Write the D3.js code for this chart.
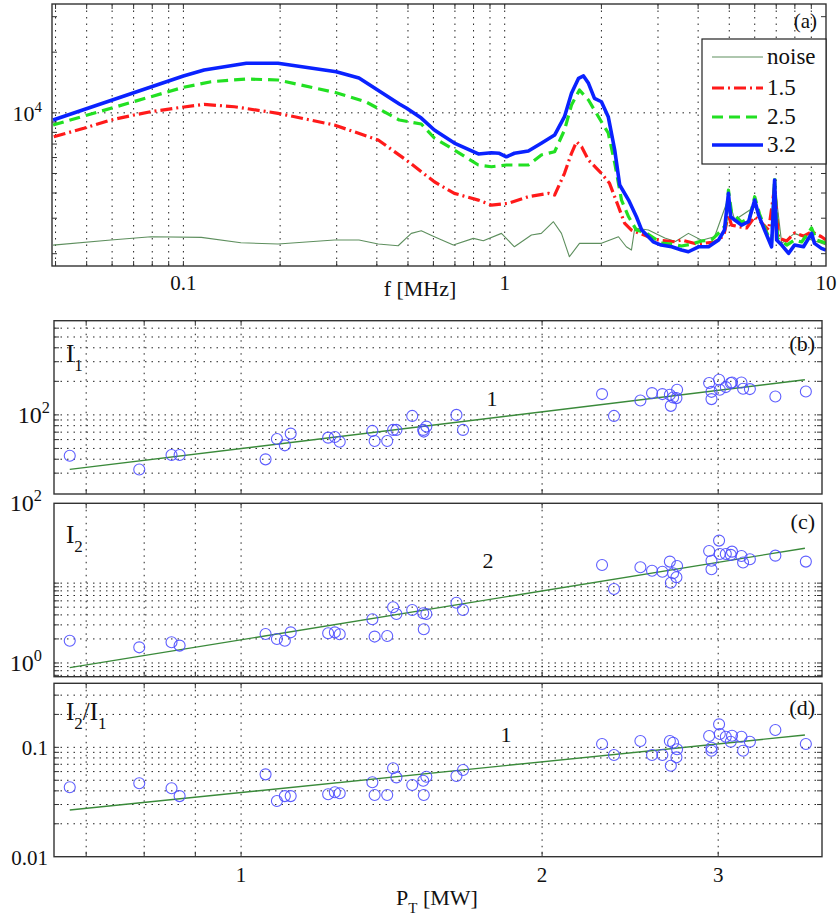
<!DOCTYPE html>
<html><head><meta charset="utf-8">
<script src="https://cdn.jsdelivr.net/npm/d3@7"></script>
<style>body{margin:0;background:#fff} svg text{font-family:"Liberation Serif","Times New Roman",serif;}</style>
</head><body><svg id="c" width="840" height="920"></svg>
<script>
// ---------------- DATA: panel (a) spectra ----------------
const noiseF = [0.0393,0.0595,0.0793,0.1137,0.151,0.197,0.295,0.352,0.404,0.466,0.512,0.550,0.604,0.692,0.799,0.858,0.977,1.072,1.211,1.30,1.418,1.502,1.590,1.709,2.0,2.26,2.39,2.48,2.54,2.80,3.15,3.40,3.73,4.10,4.50,4.97,5.20,6.0,6.40,6.77,6.92,7.28,7.98,9.02,9.68,10];
const noiseV = [2207,2338,2427,2410,2267,2234,2338,2338,2234,2190,2523,2600,2427,2207,2383,2319,2523,2165,2475,2523,2882,2523,1932,2251,2251,2427,2165,2085,2682,2620,2393,2300,2523,2330,2427,3777,2938,3420,2722,2251,4467,2251,2523,2338,2251,2207];

const f15 = [0.0395,0.0490,0.0595,0.0702,0.0793,0.0935,0.116,0.144,0.197,0.295,0.404,0.494,0.604,0.697,0.828,0.909,1.027,1.185,1.368,1.43,1.535,1.614,1.673,1.735,1.823,2.0,2.12,2.26,2.36,2.48,2.80,3.01,3.38,3.55,3.96,4.50,4.80,4.97,5.08,5.35,5.66,6.0,6.27,6.63,6.92,7.12,7.55,7.98,8.51,9.02,9.68,10];
const v15 = [7610,8380,9210,9750,10130,10530,11020,10720,9945,8700,7330,5830,4550,3986,3690,3487,3556,3837,3986,3908,5010,6300,7190,6790,5830,5010,4467,3420,2840,2620,2427,2338,2293,2338,2234,2286,2447,3110,2773,2722,2682,3050,2870,2620,4298,2393,2312,2533,2447,2570,2427,2338];

const f25 = [0.0393,0.1,0.122,0.157,0.197,0.299,0.371,0.470,0.550,0.604,0.697,0.828,0.909,1.012,1.185,1.30,1.43,1.535,1.614,1.709,1.823,2.0,2.10,2.20,2.31,2.43,2.57,2.76,3.07,3.31,3.55,3.82,4.10,4.40,4.67,4.87,4.97,5.08,5.46,5.78,6.0,6.21,6.53,6.77,6.92,7.07,7.55,7.98,8.40,9.02,9.34,10];
const v25 = [8700,13385,14270,14720,14550,12585,11310,9210,8800,7500,6540,5510,5403,5510,5510,6180,6410,8215,10935,12980,11575,9035,7940,5635,3690,3050,2620,2533,2260,2234,2183,2234,2312,2338,2562,2773,4140,3220,2870,3006,3835,3148,2562,2260,4748,2393,2207,2338,2286,2682,2338,2260];

const f32 = [0.0393,0.1,0.116,0.157,0.197,0.299,0.352,0.470,0.494,0.550,0.604,0.697,0.828,0.909,0.962,1.012,1.072,1.185,1.30,1.43,1.535,1.614,1.698,1.759,1.823,1.903,2.0,2.10,2.20,2.28,2.43,2.57,2.67,2.90,3.07,3.31,3.55,3.73,4.01,4.31,4.63,4.83,4.97,5.05,5.20,5.46,5.74,6.0,6.17,6.44,6.77,6.92,7.02,7.28,7.65,7.98,8.51,9.02,9.21,9.68,10];
const v32 = [9210,15240,16310,17610,17610,16000,14890,11060,10560,9420,8220,7080,6250,6340,6300,6050,6300,6465,7060,7760,9570,12500,14840,15240,14010,11800,11350,9570,6540,4385,3690,3050,2620,2290,2207,2165,2085,2045,2165,2165,2338,2620,3986,3050,2938,2773,2884,3690,3110,2620,2165,4645,2338,2207,2009,2207,2165,2523,2250,2126,2085];

const seriesNames = ["noise","1.5","2.5","3.2"];
const freqTickLabels = [0.1, 1, 10];
const specTickLabel = 10000;

// ---------------- DATA: panels (b)-(d) ----------------
const pT = [0.674,0.791,0.852,0.868,1.058,1.086,1.106,1.121,1.222,1.241,1.255,1.353,1.360,1.400,1.419,1.430,1.483,1.521,1.523,1.532,1.642,1.667,2.296,2.360,2.508,2.576,2.638,2.684,2.690,2.704,2.725,2.729,2.938,2.954,2.954,3.006,3.011,3.053,3.088,3.097,3.165,3.177,3.227,3.422,3.671];
const i1 = [43.0,32.4,43.6,43.6,39.9,60.8,53.3,67.9,62.5,63.4,57.4,71.8,58.3,58.3,73.3,73.3,97.9,73.3,70.8,78.5,100,73.3,153.7,97.9,134.5,156.9,153.7,151.4,120.5,143,141.4,167.9,193.1,138.5,161,206.6,167.9,177.6,193.1,195.4,195.4,171.6,170.4,146.2,162.2];
const i2 = [1.90,1.57,1.82,1.65,2.31,2.00,1.90,2.42,2.36,2.42,2.29,3.53,2.14,2.18,4.99,4.11,4.61,4.20,2.64,4.11,5.69,4.61,16.9,8.46,15.8,14.3,13.9,18.6,10.1,13.3,11.86,16.4,25.3,19.1,14.9,34.1,23.2,23.2,22.6,24.8,21.9,18.1,19.9,22.1,18.6];
const ratio = [0.0431,0.0469,0.0422,0.0358,0.0566,0.0323,0.0358,0.0358,0.0372,0.0388,0.0380,0.0479,0.0366,0.0366,0.0643,0.0531,0.0452,0.0495,0.0366,0.0538,0.0546,0.0620,0.1072,0.0850,0.1142,0.0850,0.0850,0.1142,0.0679,0.1102,0.0810,0.0959,0.1269,0.0992,0.0931,0.1623,0.1323,0.125,0.1125,0.1277,0.125,0.0931,0.1125,0.1439,0.1072];

const fitP = [0.674, 3.663];
const fitI1 = [32.4, 206.6];
const fitI2 = [0.873, 27.4];
const fitRatio = [0.0267, 0.1296];
const slopeLabels = ["1", "2", "1"];

const pGrid = [0.7, 0.8, 0.9, 1, 2, 3];
const pTickLabels = [1, 2, 3];
const gridI1 = [30,40,50,60,70,80,90,100,200,300,400,500,600];
const gridI2 = [0.7,0.8,0.9,1,2,3,4,5,6,7,8,9,10];
const gridRatio = [0.02,0.03,0.04,0.05,0.06,0.07,0.08,0.09,0.1,0.2,0.3];

// ---------------- DRAWING ----------------
const FONT = '"Liberation Serif","Times New Roman",serif';
const svg = d3.select('#c');
svg.append('rect').attr('width',840).attr('height',920).attr('fill','#fff');

const GRID = {stroke:'#222', w:1, dash:'1.5,5'};

function richText(g, x, y, parts, size, anchor) {
  const t = g.append('text').attr('x',x).attr('y',y)
    .style('font-family',FONT).attr('font-size',size)
    .attr('text-anchor',anchor||'start').attr('fill','#111');
  let shift = 0;
  parts.forEach(([s, kind]) => {
    const target = kind==='sub' ? size*0.36 : kind==='sup' ? -size*0.42 : 0;
    t.append('tspan').attr('dy', target - shift)
      .attr('font-size', kind==='n' ? size : size*0.68).text(s);
    shift = target;
  });
  return t;
}
function plainText(x, y, s, size, anchor) {
  return svg.append('text').attr('x',x).attr('y',y).attr('text-anchor',anchor)
    .style('font-family',FONT).attr('font-size',size).attr('fill','#111').text(s);
}

function hGrid(g, vals, y, x0, x1) {
  g.selectAll(null).data(vals).enter().append('line')
    .attr('x1',x0).attr('x2',x1).attr('y1',d=>y(d)).attr('y2',d=>y(d))
    .attr('stroke',GRID.stroke).attr('stroke-width',GRID.w).attr('stroke-dasharray',GRID.dash);
}
function vGrid(g, vals, x, y0, y1) {
  g.selectAll(null).data(vals).enter().append('line')
    .attr('y1',y0).attr('y2',y1).attr('x1',d=>x(d)).attr('x2',d=>x(d))
    .attr('stroke',GRID.stroke).attr('stroke-width',GRID.w).attr('stroke-dasharray',GRID.dash);
}
function ticks(g, xs, x, ys, y, L, R, T, B) {
  const len = 5;
  xs.forEach(v => {
    g.append('line').attr('x1',x(v)).attr('x2',x(v)).attr('y1',B).attr('y2',B-len).attr('stroke','#333');
    g.append('line').attr('x1',x(v)).attr('x2',x(v)).attr('y1',T).attr('y2',T+len).attr('stroke','#333');
  });
  ys.forEach(v => {
    g.append('line').attr('y1',y(v)).attr('y2',y(v)).attr('x1',L).attr('x2',L+len).attr('stroke','#333');
    g.append('line').attr('y1',y(v)).attr('y2',y(v)).attr('x1',R).attr('x2',R-len).attr('stroke','#333');
  });
}

// ----- Panel (a) -----
const A = {L:52, R:826, T:4, B:266};
const xA = d3.scaleLog().domain([0.039,10]).range([A.L,A.R]);
const yA = d3.scaleLog().domain([Math.pow(10,3.24), Math.pow(10,4.54)]).range([A.B,A.T]);
const gA = svg.append('g');
const fGrid = xA.ticks().filter(d => d > 0.0395 && d < 9.99);
vGrid(gA, fGrid, xA, A.T, A.B);
hGrid(gA, [specTickLabel], yA, A.L, A.R);
const yMinorA = [2000,3000,4000,5000,6000,7000,8000,9000,10000,20000,30000];
ticks(gA, fGrid, xA, yMinorA, yA, A.L, A.R, A.T, A.B);

svg.append('clipPath').attr('id','clipA').append('rect')
  .attr('x',A.L).attr('y',A.T).attr('width',A.R-A.L).attr('height',A.B-A.T);
const lineA = (fs, vs) => d3.line().x((d,i)=>xA(fs[i])).y((d,i)=>yA(vs[i]))(vs);
const styles = [
  {c:'#5e8f5e', w:1.1, dash:null},
  {c:'#ff1a1a', w:3.2, dash:'12,4,2,4'},
  {c:'#22e022', w:3.2, dash:'11,6'},
  {c:'#0a22ff', w:3.6, dash:null}
];
const specData = [[noiseF,noiseV],[f15,v15],[f25,v25],[f32,v32]];
const curves = gA.append('g').attr('clip-path','url(#clipA)');
specData.forEach((s,k) => {
  curves.append('path').attr('d', lineA(s[0], s[1]))
    .attr('fill','none').attr('stroke',styles[k].c).attr('stroke-width',styles[k].w)
    .attr('stroke-linejoin','round')
    .attr('stroke-dasharray',styles[k].dash);
});
gA.append('rect').attr('x',A.L).attr('y',A.T).attr('width',A.R-A.L).attr('height',A.B-A.T)
  .attr('fill','none').attr('stroke','#333').attr('stroke-width',1.4);

// axis labels (a)
freqTickLabels.forEach(v => plainText(xA(v), 290, v, 21, 'middle'));
richText(svg, 42, yA(specTickLabel)+8, [['10','n'],['4','sup']], 22, 'end');
plainText(420, 296, 'f [MHz]', 22, 'middle');
plainText(817, 28, '(a)', 21, 'end');

// legend
const lg = svg.append('g');
lg.append('rect').attr('x',702).attr('y',39).attr('width',124).attr('height',125)
  .attr('fill','#fff').attr('stroke','#222').attr('stroke-width',1.2);
const legY = [57, 88, 117, 145];
seriesNames.forEach((n,k) => {
  lg.append('line').attr('x1',712).attr('x2',763).attr('y1',legY[k]).attr('y2',legY[k])
    .attr('stroke',styles[k].c).attr('stroke-width',styles[k].w).attr('stroke-dasharray',styles[k].dash);
  plainText(767, legY[k]+7, n, 23, 'start');
});

// ----- Panels (b)-(d) -----
const xP = d3.scaleLog().domain([0.65, 3.81]).range([54, 822]);
const panels = [
  {T:320.7, B:494, dom:[19.5,700], vals:i1, fit:fitI1, grid:gridI1, tag:'(b)', tagY:351,
   slopeX:492, slopeY:406, name:[['I','n'],['1','sub']], nameY:362,
   yLabels:[{v:100, parts:[['10','n'],['2','sup']], x:50}]},
  {T:503.3, B:676.7, dom:[0.673,100], vals:i2, fit:fitI2, grid:gridI2, tag:'(c)', tagY:529,
   slopeX:488, slopeY:568, name:[['I','n'],['2','sub']], nameY:543,
   yLabels:[{v:100, parts:[['10','n'],['2','sup']], x:42},{v:1, parts:[['10','n'],['0','sup']], x:42}]},
  {T:683.3, B:856.7, dom:[0.01,0.385], vals:ratio, fit:fitRatio, grid:gridRatio, tag:'(d)', tagY:715,
   slopeX:506, slopeY:741.7, name:[['I','n'],['2','sub'],['/I','n'],['1','sub']], nameY:720,
   yLabels:[{v:0.1, parts:[['0.1','n']], x:48},{v:0.01, parts:[['0.01','n']], x:48}]}
];
const PL = 54, PR = 822;
panels.forEach((p, k) => {
  const y = d3.scaleLog().domain(p.dom).range([p.B, p.T]);
  const g = svg.append('g');
  vGrid(g, pGrid, xP, p.T, p.B);
  hGrid(g, p.grid, y, PL, PR);
  ticks(g, pGrid, xP, p.grid, y, PL, PR, p.T, p.B);
  g.append('line').attr('x1',xP(fitP[0])).attr('x2',xP(fitP[1]))
    .attr('y1',y(p.fit[0])).attr('y2',y(p.fit[1]))
    .attr('stroke','#3a8a3a').attr('stroke-width',1.4);
  g.selectAll(null).data(p.vals).enter().append('circle')
    .attr('cx',(d,i)=>xP(pT[i])).attr('cy',d=>y(d)).attr('r',5.5)
    .attr('fill','none').attr('stroke','#4c4cff').attr('stroke-width',1.1).attr('stroke-opacity',0.9);
  g.append('rect').attr('x',PL).attr('y',p.T).attr('width',PR-PL).attr('height',p.B-p.T)
    .attr('fill','none').attr('stroke','#333').attr('stroke-width',1.4);
  p.yLabels.forEach(l => {
    const sz = l.parts.length > 1 ? 24 : 21;
    richText(svg, l.x, y(l.v) + 8, l.parts, sz, 'end');
  });
  plainText(815, p.tagY, p.tag, 22, 'end');
  plainText(p.slopeX, p.slopeY, slopeLabels[k], 22, 'middle');
  richText(svg, 66, p.nameY, p.name, 25, 'start');
});
pTickLabels.forEach(v => plainText(xP(v), 882, v, 21, 'middle'));
richText(svg, 437, 905, [['P','n'],['T','sub'],[' [MW]','n']], 22, 'middle');
</script>
</body></html>
